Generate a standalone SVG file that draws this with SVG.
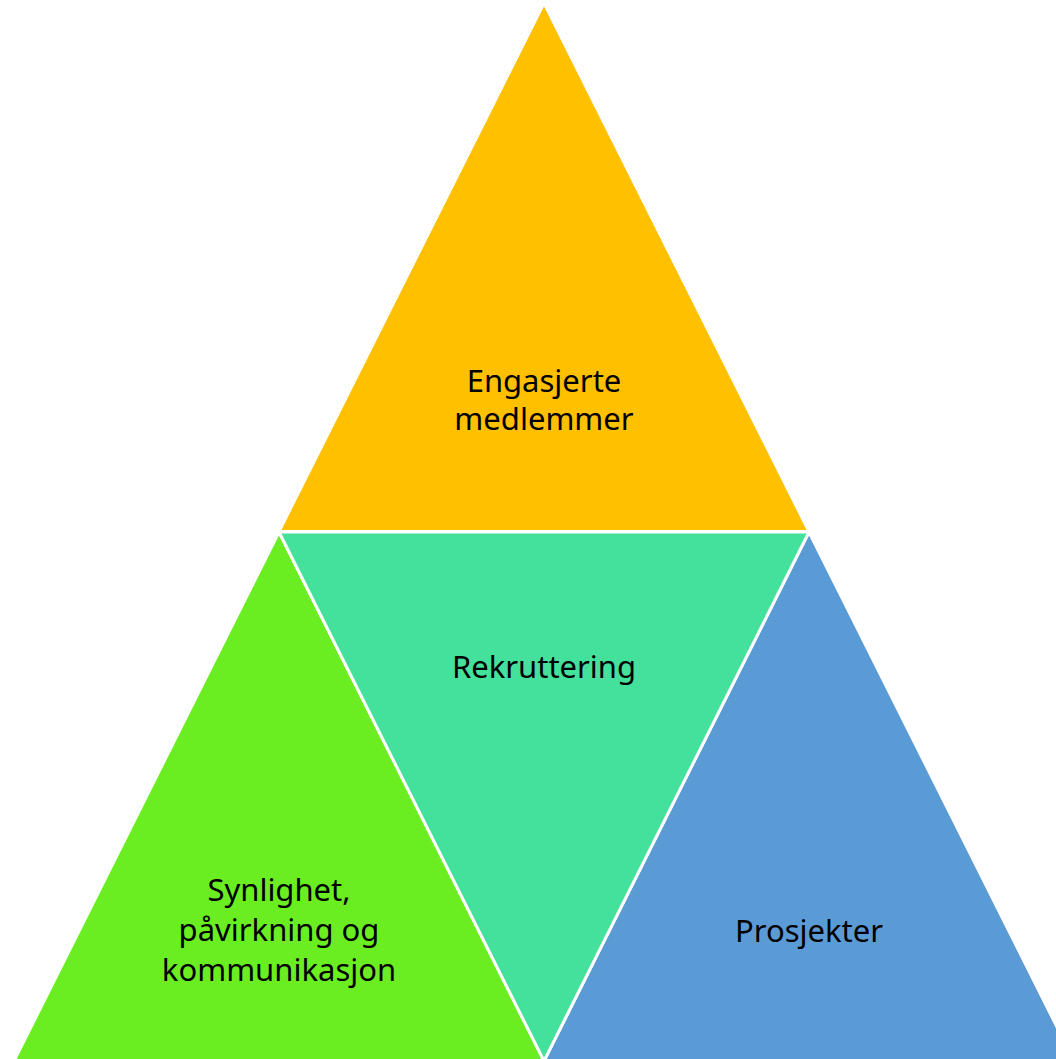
<svg xmlns="http://www.w3.org/2000/svg" width="1056" height="1059" viewBox="0 0 1056 1059">
<style>
.tri{stroke:#FFFFFF;stroke-width:3;stroke-linejoin:miter}
.lbl{font-family:"Noto Sans","Open Sans","Liberation Sans",sans-serif;font-size:31px;fill:#000000;text-anchor:middle}
</style>
<rect width="1056" height="1059" fill="#FFFFFF"/>
<g id="node-top">
<polygon class="tri" points="544,3 279,531.5 809,531.5" fill="#FFC000"/>
<text class="lbl" x="544" y="392">Engasjerte</text>
<text class="lbl" x="544" y="430">medlemmer</text>
</g>
<g id="node-left">
<polygon class="tri" points="279,532 14,1061 544,1061" fill="#6AEE22"/>
<text class="lbl" x="279" y="901">Synlighet,</text>
<text class="lbl" x="279" y="941">påvirkning og</text>
<text class="lbl" x="279" y="981">kommunikasjon</text>
</g>
<g id="node-right">
<polygon class="tri" points="809,532 544,1061 1074,1061" fill="#5B9BD5"/>
<text class="lbl" x="809" y="942">Prosjekter</text>
</g>
<g id="node-middle">
<polygon class="tri" points="279,532 809,532 544,1061" fill="#43E19C"/>
<text class="lbl" x="544" y="678">Rekruttering</text>
</g>
<g id="connectors"></g>
</svg>
